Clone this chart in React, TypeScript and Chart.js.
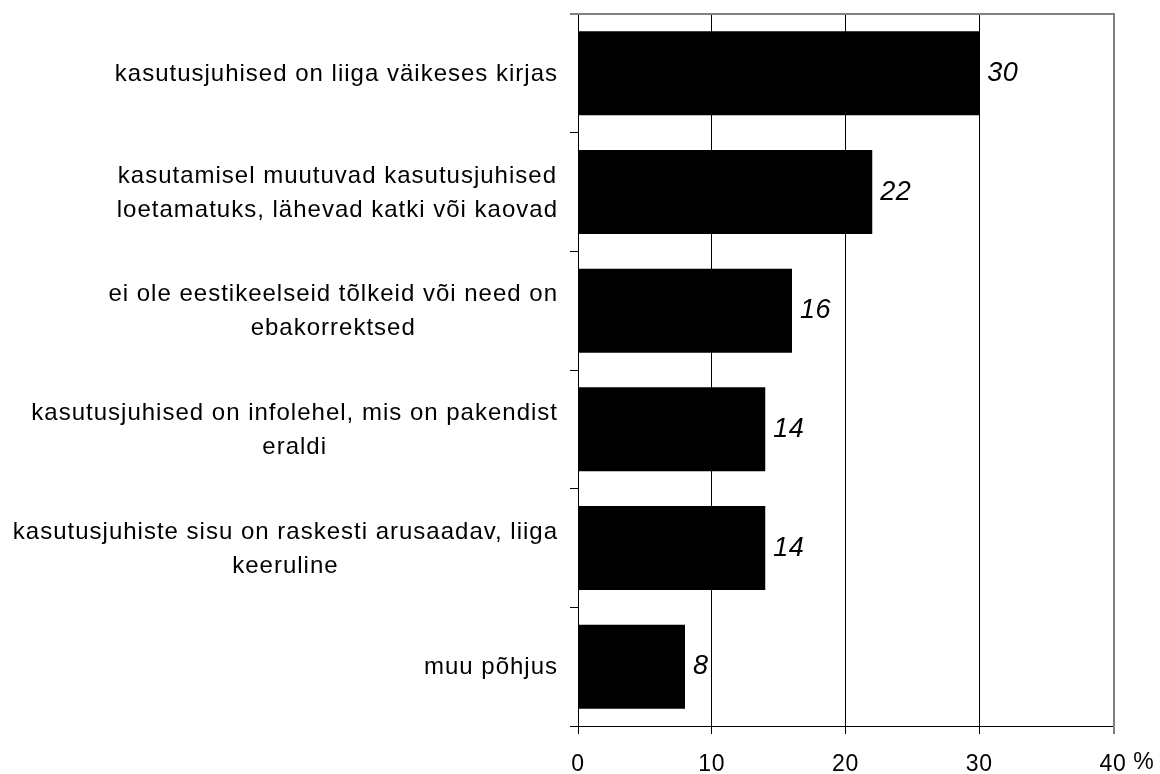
import React, { useEffect, useRef } from "react";
import { Chart, registerables } from "chart.js";

Chart.register(...registerables);

const categories: string[][] = [
  ["kasutusjuhised on liiga väikeses kirjas"],
  ["kasutamisel muutuvad kasutusjuhised", "loetamatuks, lähevad katki või kaovad"],
  ["ei ole eestikeelseid tõlkeid või need on", "ebakorrektsed"],
  ["kasutusjuhised on infolehel, mis on pakendist", "eraldi"],
  ["kasutusjuhiste sisu on raskesti arusaadav, liiga", "keeruline"],
  ["muu põhjus"],
];
const values: number[] = [30, 22, 16, 14, 14, 8];
const xTicks: number[] = [0, 10, 20, 30, 40];
const unitLabel = "%";

const FONT = '"Liberation Sans", Arial, sans-serif';

const decor = {
  id: "decor",
  beforeDraw(chart: any) {
    chart.ctx.letterSpacing = "0.8px";
  },
  afterDatasetsDraw(chart: any) {
    const ctx = chart.ctx;
    const meta = chart.getDatasetMeta(0);
    ctx.save();
    ctx.font = `italic 27px ${FONT}`;
    ctx.letterSpacing = "0.5px";
    ctx.fillStyle = "#000";
    ctx.textAlign = "left";
    ctx.textBaseline = "middle";
    meta.data.forEach((el: any, i: number) => {
      ctx.fillText(String(values[i]), el.x + 8, el.y);
    });
    ctx.restore();
  },
  afterDraw(chart: any) {
    const ctx = chart.ctx;
    const a = chart.chartArea;
    const yScale = chart.scales.y;
    ctx.save();
    // grey frame (top and right)
    ctx.strokeStyle = "#808080";
    ctx.lineWidth = 2;
    ctx.beginPath();
    ctx.moveTo(a.left - 8, a.top);
    ctx.lineTo(a.right + 1, a.top);
    ctx.lineTo(a.right + 1, a.bottom + 8);
    ctx.stroke();

    // category labels: block right-aligned, lines centred in block
    const ls = 1;
    ctx.font = `24px ${FONT}`;
    ctx.letterSpacing = `${ls}px`;
    ctx.fillStyle = "#000";
    ctx.textAlign = "center";
    ctx.textBaseline = "middle";
    const lh = 34;
    const rightEdge = a.left - 21;
    categories.forEach((lines, i) => {
      const cy = yScale.getPixelForTick(i) + 1;
      const widths = lines.map((l) => ctx.measureText(l).width - ls);
      const bw = Math.max(...widths);
      const cx = rightEdge - bw / 2;
      lines.forEach((l, j) => {
        const ly = cy + (j - (lines.length - 1) / 2) * lh;
        ctx.fillText(l, cx + ls / 2, ly);
      });
    });

    // unit label next to the last x tick
    ctx.letterSpacing = "0.8px";
    ctx.font = `23px ${FONT}`;
    ctx.textAlign = "center";
    ctx.fillText(unitLabel, a.right + 31, 763);
    ctx.restore();
    ctx.letterSpacing = "0px";
  },
};

export default function App() {
  const ref = useRef<HTMLCanvasElement | null>(null);

  useEffect(() => {
    if (!ref.current) return;
    const chart = new Chart(ref.current, {
      type: "bar",
      data: {
        labels: categories,
        datasets: [
          {
            data: values,
            backgroundColor: "#000",
            borderWidth: 0,
            barPercentage: 0.708,
            categoryPercentage: 1,
          },
        ],
      },
      options: {
        indexAxis: "y",
        animation: false,
        responsive: false,
        devicePixelRatio: 1,
        layout: { padding: { top: 14, right: 47, left: 0, bottom: 0 } },
        plugins: {
          legend: { display: false },
          tooltip: { enabled: false },
        },
        scales: {
          x: {
            type: "linear",
            position: "bottom",
            min: 0,
            max: 40,
            afterBuildTicks: (scale: any) => {
              scale.ticks = xTicks.map((v) => ({ value: v }));
            },
            afterFit: (scale: any) => {
              scale.height = 48;
            },
            ticks: {
              color: "#000",
              font: { family: FONT, size: 23 },
              padding: 17,
              maxRotation: 0,
              autoSkip: false,
            },
            grid: {
              color: (c: any) =>
                c.tick && c.tick.value === 40 ? "rgba(0,0,0,0)" : "#000",
              lineWidth: 1,
              drawTicks: true,
              tickLength: 8,
            },
            border: { display: true, color: "#000", width: 1 },
          },
          y: {
            type: "category",
            position: "left",
            afterFit: (scale: any) => {
              scale.width = 578;
            },
            ticks: { display: false },
            grid: {
              drawOnChartArea: false,
              drawTicks: true,
              tickLength: 8,
              color: "#000",
              lineWidth: 1,
              offset: true,
            },
            border: { display: true, color: "#000", width: 1 },
          },
        },
      },
      plugins: [decor],
    } as any);
    return () => chart.destroy();
  }, []);

  return (
    <div
      style={{
        position: "fixed",
        left: 0,
        top: 0,
        width: 1160,
        height: 774,
        background: "#fff",
      }}
    >
      <canvas
        ref={ref}
        width={1160}
        height={774}
        style={{ display: "block", width: 1160, height: 774 }}
      />
    </div>
  );
}
